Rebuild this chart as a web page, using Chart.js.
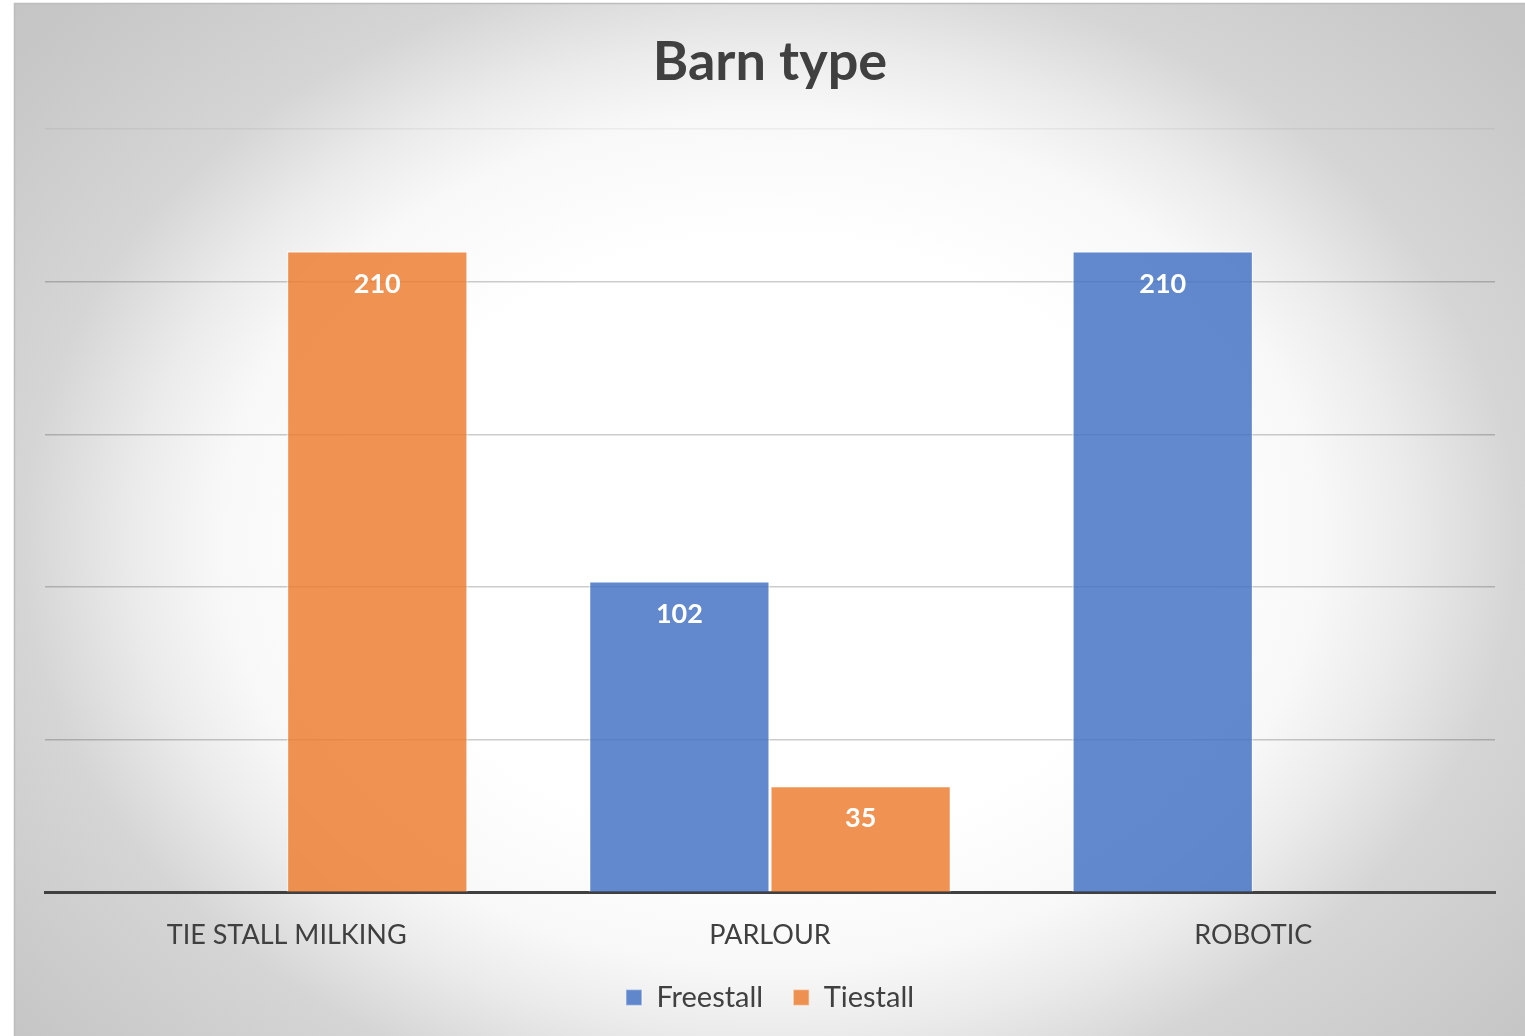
<!DOCTYPE html>
<html>
<head>
<meta charset="utf-8">
<script src="https://cdn.jsdelivr.net/npm/chart.js@4"></script>
<style>
  html, body { margin: 0; padding: 0; background: #ffffff; }
  #wrap { position: absolute; left: 0; top: 0; width: 1525px; height: 1036px; }
</style>
</head>
<body>
<div id="wrap"><canvas id="c" width="1525" height="1036"></canvas></div>
<script>
const categories = ['TIE STALL MILKING', 'PARLOUR', 'ROBOTIC'];
const freestall = [null, 102, 210];
const tiestall = [210, 35, null];
const seriesNames = ['Freestall', 'Tiestall'];
const chartTitle = 'Barn type';

const FONT = 'Lato, "Open Sans", sans-serif';
const TEXT = '#404040';

const bgPlugin = {
  id: 'bg',
  beforeDraw(chart) {
    const ctx = chart.ctx;
    const x0 = 14, y0 = 3, w = chart.width - x0, h = chart.height - y0;
    ctx.save();
    ctx.fillStyle = '#ffffff';
    ctx.fillRect(0, 0, chart.width, chart.height);
    const cx = 770, cy = 540, rx = 850, ry = 660;
    const k = ry / rx;
    ctx.beginPath();
    ctx.rect(x0, y0, w, h);
    ctx.clip();
    ctx.translate(cx, cy);
    ctx.scale(1, k);
    const R = rx * 1.2;
    const g = ctx.createRadialGradient(0, 0, 0, 0, 0, R);
    g.addColorStop(0, '#ffffff');
    g.addColorStop(0.375, '#ffffff');
    g.addColorStop(0.54, '#f8f8f8');
    g.addColorStop(0.625, '#ebebeb');
    g.addColorStop(0.733, '#d5d5d5');
    g.addColorStop(0.958, '#c6c6c6');
    g.addColorStop(1, '#c5c5c5');
    ctx.fillStyle = g;
    ctx.fillRect(-cx, -cy / k - 10, chart.width, chart.height / k + 20);
    ctx.restore();
    ctx.save();
    ctx.strokeStyle = '#bdbdbd';
    ctx.lineWidth = 1.5;
    ctx.beginPath();
    ctx.moveTo(x0 + 0.5, chart.height);
    ctx.lineTo(x0 + 0.5, y0 + 0.5);
    ctx.lineTo(chart.width, y0 + 0.5);
    ctx.stroke();
    ctx.restore();
  }
};

const labelPlugin = {
  id: 'barLabels',
  afterDatasetsDraw(chart) {
    const ctx = chart.ctx;
    ctx.save();
    ctx.fillStyle = '#ffffff';
    ctx.font = 'bold 27px ' + FONT;
    ctx.textAlign = 'center';
    ctx.textBaseline = 'middle';
    chart.data.datasets.forEach((ds, di) => {
      const meta = chart.getDatasetMeta(di);
      meta.data.forEach((bar, i) => {
        const v = ds.data[i];
        if (v === null || v === undefined) return;
        ctx.fillText(String(v), bar.x, bar.y + 33);
      });
    });
    ctx.restore();
  }
};

new Chart(document.getElementById('c'), {
  type: 'bar',
  data: {
    labels: categories,
    datasets: [
      {
        label: seriesNames[0],
        data: freestall,
        backgroundColor: 'rgba(68,114,196,0.84)',
        borderColor: 'rgba(255,255,255,0.45)',
        borderWidth: 1.5
      },
      {
        label: seriesNames[1],
        data: tiestall,
        backgroundColor: 'rgba(237,125,49,0.84)',
        borderColor: 'rgba(255,255,255,0.45)',
        borderWidth: 1.5
      }
    ]
  },
  options: {
    responsive: false,
    animation: false,
    layout: { padding: { left: 45, right: 30, top: 0, bottom: 14 } },
    datasets: { bar: { barPercentage: 1.0, categoryPercentage: 0.75 } },
    plugins: {
      title: {
        display: true,
        text: chartTitle,
        color: TEXT,
        font: { family: FONT, size: 54, weight: 'bold' },
        padding: { top: 30, bottom: 34 }
      },
      legend: {
        position: 'bottom',
        labels: {
          color: TEXT,
          font: { family: FONT, size: 29 },
          boxWidth: 16,
          boxHeight: 16,
          padding: 30
        }
      },
      tooltip: { enabled: false }
    },
    scales: {
      x: {
        grid: { display: false },
        border: { display: true, color: '#404040', width: 3 },
        ticks: { color: TEXT, font: { family: FONT, size: 27 }, padding: 18 },
        afterFit(scale) { scale.height -= 16; }
      },
      y: {
        min: 0,
        max: 250,
        ticks: { display: false, stepSize: 50 },
        border: { display: false },
        grid: {
          drawTicks: false,
          color: (c) => (c.tick && c.tick.value === 250 ? 'rgba(0,0,0,0.05)' : 'rgba(0,0,0,0.2)'),
          lineWidth: 1.5
        }
      }
    }
  },
  plugins: [bgPlugin, labelPlugin]
});
</script>
</body>
</html>
